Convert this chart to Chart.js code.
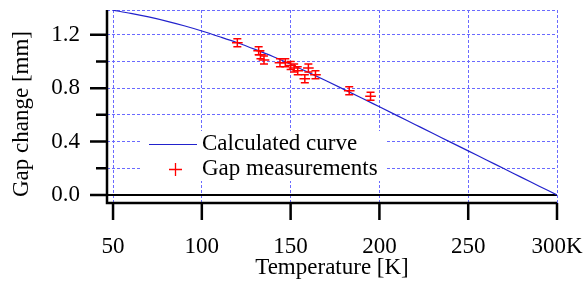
<!DOCTYPE html>
<html>
<head>
<meta charset="utf-8">
<script src="https://cdn.jsdelivr.net/npm/chart.js@4"></script>
<style>
  html, body { margin: 0; padding: 0; background: #fff; }
  #wrap { width: 585px; height: 282px; }
</style>
</head>
<body>
<div id="wrap"><canvas id="gap-chart" width="585" height="282"></canvas></div>
<script>
// calculated curve (temperature K -> gap change mm)
const curveT   = [50, 60, 70, 80, 90, 100, 110, 120, 130, 140, 150, 160, 170, 180, 190, 200,
                  210, 220, 230, 240, 250, 260, 270, 280, 290, 300];
const curveGap = [1.383, 1.36, 1.333, 1.302, 1.267, 1.228, 1.185, 1.14, 1.09, 1.037, 0.979, 0.918,
                  0.855, 0.791, 0.726, 0.66, 0.594, 0.528, 0.462, 0.396, 0.33, 0.264, 0.198, 0.132, 0.066, 0];

// measurements
const measT   = [120, 132, 133, 135, 144, 147, 150, 152, 154, 158, 160, 164, 183, 195];
const measGap = [1.14, 1.08, 1.05, 1.01, 0.99, 0.99, 0.97, 0.95, 0.93, 0.87, 0.95, 0.90, 0.78, 0.74];
const measTErr   = [3, 3, 3, 3, 3, 3, 3, 3, 3, 3, 3, 3, 3, 3];
const measGapErr = [0.03, 0.03, 0.03, 0.03, 0.03, 0.03, 0.03, 0.03, 0.03, 0.03, 0.03, 0.03, 0.03, 0.03];

const xTicks = [50, 100, 150, 200, 250, 300];
const yGridVals = [0, 0.2, 0.4, 0.6, 0.8, 1.0, 1.2, 1.385];
const yMajor = [0, 0.4, 0.8, 1.2];
const yMinor = [0.2, 0.6, 1.0];

const FONT = 'Liberation Serif, Times New Roman, serif';
const GRID = '#6a6aff';

// black frame, zero line, tick marks and the y title
const axesPlugin = {
  id: 'axesPlugin',
  beforeDatasetsDraw(chart) {
    const { ctx, chartArea: a, scales: { y } } = chart;
    ctx.save();
    ctx.strokeStyle = '#000';
    ctx.lineWidth = 2;
    const y0 = y.getPixelForValue(0);
    ctx.beginPath(); ctx.moveTo(a.left, y0); ctx.lineTo(a.right, y0); ctx.stroke();
    ctx.restore();
  },
  afterDraw(chart) {
    const { ctx, chartArea: a, scales: { x, y } } = chart;
    ctx.save();
    ctx.strokeStyle = '#000';
    ctx.lineWidth = 2.5;
    ctx.beginPath();
    ctx.moveTo(a.left, a.top); ctx.lineTo(a.left, a.bottom); ctx.lineTo(a.right, a.bottom);
    ctx.stroke();
    ctx.beginPath();
    yMajor.forEach(v => { const p = y.getPixelForValue(v); ctx.moveTo(a.left - 17, p); ctx.lineTo(a.left, p); });
    yMinor.forEach(v => { const p = y.getPixelForValue(v); ctx.moveTo(a.left - 11, p); ctx.lineTo(a.left, p); });
    xTicks.forEach(v => { const p = x.getPixelForValue(v); ctx.moveTo(p, a.bottom); ctx.lineTo(p, a.bottom + 17); });
    ctx.stroke();

    ctx.translate(22, 114);
    ctx.rotate(-Math.PI / 2);
    ctx.fillStyle = '#000';
    ctx.font = '23px ' + FONT;
    ctx.textAlign = 'center';
    ctx.textBaseline = 'middle';
    ctx.fillText('Gap change [mm]', 0, 0);
    ctx.restore();
  }
};

const errorBars = {
  id: 'errorBars',
  afterDatasetsDraw(chart) {
    const { ctx, scales: { x, y } } = chart;
    ctx.save();
    ctx.strokeStyle = '#ff0000';
    ctx.lineWidth = 1.5;
    measT.forEach((t, i) => {
      const px = x.getPixelForValue(t);
      const py = y.getPixelForValue(measGap[i]);
      const xl = x.getPixelForValue(t - measTErr[i]);
      const xr = x.getPixelForValue(t + measTErr[i]);
      const yt = y.getPixelForValue(measGap[i] + measGapErr[i]);
      const yb = y.getPixelForValue(measGap[i] - measGapErr[i]);
      ctx.beginPath();
      ctx.moveTo(px, yt); ctx.lineTo(px, yb);
      ctx.moveTo(px - 4, yt); ctx.lineTo(px + 4, yt);
      ctx.moveTo(px - 4, yb); ctx.lineTo(px + 4, yb);
      ctx.moveTo(xl, py); ctx.lineTo(xr, py);
      ctx.stroke();
    });
    ctx.restore();
  }
};

const legendBox = {
  id: 'legendBox',
  afterDraw(chart) {
    const { ctx } = chart;
    ctx.save();
    ctx.fillStyle = '#fff';
    ctx.fillRect(142, 131, 243, 50);
    ctx.strokeStyle = '#2222cc';
    ctx.lineWidth = 1.2;
    ctx.beginPath(); ctx.moveTo(149, 144.5); ctx.lineTo(197, 144.5); ctx.stroke();
    ctx.strokeStyle = '#ff0000';
    ctx.lineWidth = 1.3;
    ctx.beginPath();
    ctx.moveTo(169, 169.5); ctx.lineTo(182, 169.5);
    ctx.moveTo(175.5, 163); ctx.lineTo(175.5, 176);
    ctx.stroke();
    ctx.fillStyle = '#000';
    ctx.font = '23px ' + FONT;
    ctx.textBaseline = 'middle';
    ctx.fillText(chart.data.datasets[0].label, 202, 144);
    ctx.fillText(chart.data.datasets[1].label, 202, 169);
    ctx.restore();
  }
};

const ctx = document.getElementById('gap-chart').getContext('2d');

new Chart(ctx, {
  type: 'scatter',
  data: {
    datasets: [{
      type: 'line',
      label: 'Calculated curve',
      data: curveT.map((t, i) => ({ x: t, y: curveGap[i] })),
      borderColor: '#2222cc',
      borderWidth: 1.2,
      pointRadius: 0,
      cubicInterpolationMode: 'monotone',
    }, {
      label: 'Gap measurements',
      data: measT.map((t, i) => ({ x: t, y: measGap[i] })),
      pointRadius: 0,
      borderColor: '#ff0000',
      backgroundColor: '#ff0000',
    }]
  },
  plugins: [axesPlugin, errorBars, legendBox],
  options: {
    responsive: false,
    animation: false,
    layout: { padding: { top: 10, right: 28, left: 0, bottom: 0 } },
    plugins: { legend: { display: false }, tooltip: { enabled: false } },
    scales: {
      x: {
        type: 'linear',
        min: 46.6, max: 300,
        afterFit: s => { s.height = 79; s.paddingLeft = 0; s.paddingRight = 0; },
        afterBuildTicks: s => { s.ticks = xTicks.map(v => ({ value: v })); },
        border: { display: false, dash: [3, 2] },
        grid: { color: GRID, lineWidth: 1, drawTicks: false },
        ticks: {
          color: '#000', padding: 30, maxRotation: 0,
          font: { family: FONT, size: 23 },
          callback: v => v === 300 ? '300K' : String(v)
        },
        title: { display: true, text: 'Temperature [K]', color: '#000',
                 font: { family: FONT, size: 23 }, padding: { top: 0, bottom: 0 } }
      },
      y: {
        type: 'linear',
        min: -0.06, max: 1.385,
        afterFit: s => { s.width = 107; s.paddingTop = 0; s.paddingBottom = 0; },
        afterBuildTicks: s => { s.ticks = yGridVals.map(v => ({ value: v })); },
        border: { display: false, dash: [3, 2] },
        grid: {
          color: c => (c.tick && c.tick.value === 0) ? 'rgba(0,0,0,0)' : GRID,
          lineWidth: 1, drawTicks: false
        },
        ticks: {
          color: '#000', padding: 27, autoSkip: false,
          font: { family: FONT, size: 23 },
          callback: v => yMajor.some(m => Math.abs(m - v) < 1e-6) ? v.toFixed(1) : ''
        },
        title: { display: false }
      }
    }
  }
});
</script>
</body>
</html>
